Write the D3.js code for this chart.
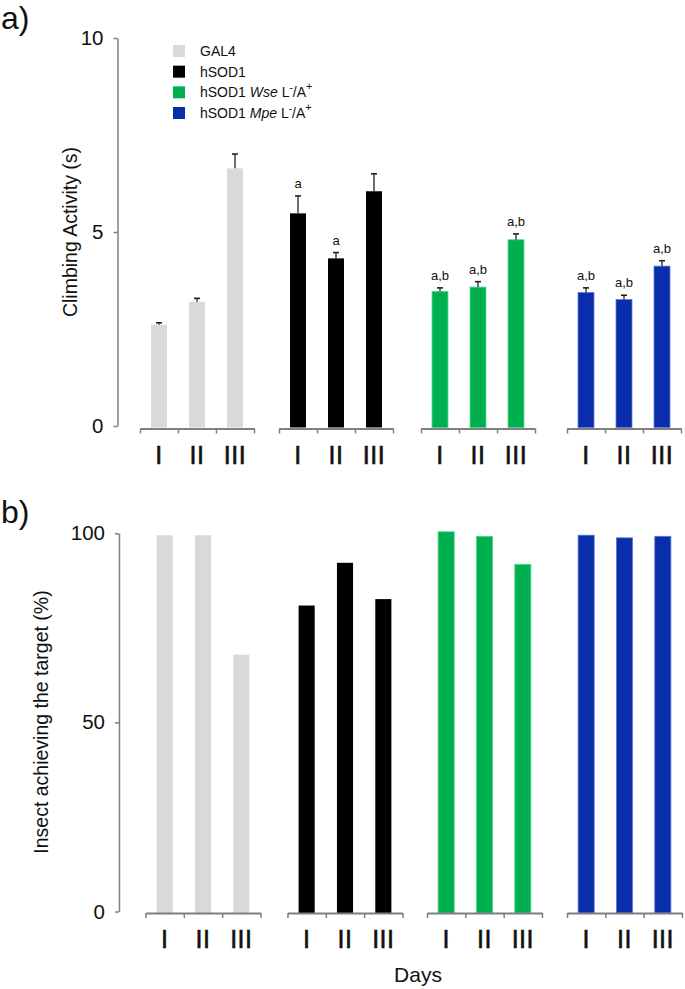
<!DOCTYPE html>
<html>
<head>
<meta charset="utf-8">
<script src="https://cdn.jsdelivr.net/npm/d3@7"></script>
<style>
  html, body { margin: 0; padding: 0; background: #fff; }
  svg { display: block; }
  text { font-family: "Liberation Sans", Arial, Helvetica, sans-serif; fill: #111; }
</style>
</head>
<body>
<svg id="chart" width="685" height="989"></svg>
<script>
// ---------------- DATA ----------------
const groups = ["GAL4", "hSOD1", "hSOD1 Wse", "hSOD1 Mpe"];
const days = ["I", "II", "III"];
const groupColors = ["#d9d9d9", "#000000", "#00b050", "#0a2dab"];

// Panel a: climbing activity (s), mean and upper error
const gal4Climb = [2.61, 3.20, 6.64];
const hsod1Climb = [5.48, 4.32, 6.05];
const wseClimb = [3.47, 3.58, 4.80];
const mpeClimb = [3.44, 3.26, 4.12];

const gal4Err = [0.05, 0.09, 0.37];
const hsod1Err = [0.45, 0.15, 0.45];
const wseErr = [0.09, 0.14, 0.15];
const mpeErr = [0.12, 0.11, 0.14];

const gal4Sig = ["", "", ""];
const hsod1Sig = ["a", "a", ""];
const wseSig = ["a,b", "a,b", "a,b"];
const mpeSig = ["a,b", "a,b", "a,b"];

// Panel b: insects achieving the target (%)
const gal4Pct = [99.5, 99.5, 67.9];
const hsod1Pct = [80.9, 92.2, 82.6];
const wsePct = [100.4, 99.2, 91.8];
const mpePct = [99.5, 98.8, 99.2];

const climbTicks = [0, 5, 10];
const pctTicks = [0, 50, 100];

const climbData = [gal4Climb, hsod1Climb, wseClimb, mpeClimb];
const errData = [gal4Err, hsod1Err, wseErr, mpeErr];
const sigData = [gal4Sig, hsod1Sig, wseSig, mpeSig];
const pctData = [gal4Pct, hsod1Pct, wsePct, mpePct];

// ---------------- LAYOUT ----------------
const svg = d3.select("#chart");
const axisColor = "#7f7f7f";
const font = "'Liberation Sans', Arial, Helvetica, sans-serif";

function drawPanel(opts) {
  const g = svg.append("g");
  const y = d3.scaleLinear().domain(opts.domain).range(opts.yRange);
  const gx = d3.scaleOrdinal().domain(groups).range(opts.groupStarts);
  const dx = d3.scaleBand().domain(days).range([0, opts.groupWidth]).paddingInner(0.58).paddingOuter(0.29);

  // Y axis
  const yAxis = d3.axisLeft(y).tickValues(opts.ticks).tickSize(4).tickPadding(10).tickSizeOuter(0);
  const ya = g.append("g").attr("transform", `translate(${opts.axisX},0)`).call(yAxis);
  ya.select(".domain").attr("stroke", axisColor).attr("stroke-width", 1.5);
  ya.selectAll(".tick line").attr("stroke", axisColor).attr("stroke-width", 1.5);
  ya.selectAll(".tick text").attr("font-size", 20.5).attr("font-family", font).attr("fill", "#111");

  // Y title
  g.append("text")
    .attr("transform", `translate(${opts.titleX},${opts.titleY}) rotate(-90)`)
    .attr("text-anchor", "middle")
    .attr("font-size", opts.titleSize)
    .text(opts.title);

  groups.forEach((grp, gi) => {
    const gg = g.append("g").attr("transform", `translate(${gx(grp)},0)`);
    const vals = opts.values[gi];
    // Bars
    gg.selectAll("rect.bar").data(vals).enter().append("rect")
      .attr("class", "bar")
      .attr("x", (d, i) => dx(days[i]))
      .attr("width", dx.bandwidth())
      .attr("y", d => y(d))
      .attr("height", d => y(0) - y(d) + 1.5)
      .attr("fill", groupColors[gi])
      .attr("stroke", gi === 2 ? "#4fd883" : (gi === 3 ? "#5a78d8" : "none"))
      .attr("stroke-width", gi >= 2 ? 0.8 : 0);

    // Error bars
    if (opts.errors) {
      const errs = opts.errors[gi];
      vals.forEach((v, i) => {
        const cx = dx(days[i]) + dx.bandwidth() / 2;
        const top = y(v + errs[i]);
        gg.append("line").attr("x1", cx).attr("x2", cx).attr("y1", y(v)).attr("y2", top)
          .attr("stroke", "#222").attr("stroke-width", 1.3);
        gg.append("line").attr("x1", cx - 3).attr("x2", cx + 3).attr("y1", top).attr("y2", top)
          .attr("stroke", "#222").attr("stroke-width", 1.6);
        const s = opts.sig[gi][i];
        if (s) {
          gg.append("text").attr("x", cx).attr("y", top - 8)
            .attr("text-anchor", "middle").attr("font-size", 13).text(s);
        }
      });
    }

    // Group x axis
    const xAxis = d3.axisBottom(d3.scaleLinear().domain([0, 3]).range([0, opts.groupWidth]))
      .tickValues([0, 1, 2, 3]).tickSize(5).tickSizeOuter(0).tickFormat("");
    const xa = gg.append("g").attr("transform", `translate(0,${opts.baseY})`).call(xAxis);
    xa.select(".domain").attr("stroke", axisColor).attr("stroke-width", 2);
    xa.selectAll(".tick line").attr("stroke", axisColor).attr("stroke-width", 1.5);

    // Day labels
    gg.selectAll("text.day").data(days).enter().append("text")
      .attr("class", "day")
      .attr("x", d => dx(d) + dx.bandwidth() / 2)
      .attr("y", opts.baseY + 35)
      .attr("text-anchor", "middle")
      .attr("font-size", 25)
      .attr("letter-spacing", 0.5)
      .attr("fill", "#111")
      .attr("stroke", "#111")
      .attr("stroke-width", 0.6)
      .text(d => d);
  });

  // Panel letter
  g.append("text").attr("x", 1).attr("y", opts.letterY).attr("font-size", 32).text(opts.letter);
  return y;
}

drawPanel({
  domain: [0, 10], yRange: [426, 38], ticks: climbTicks, axisX: 117.5,
  groupStarts: [140, 279, 421, 567], groupWidth: 114, baseY: 428.5,
  values: climbData, errors: errData, sig: sigData,
  title: "Climbing Activity (s)", titleX: 77, titleY: 232, titleSize: 19.5,
  letter: "a)", letterY: 29
});

drawPanel({
  domain: [0, 100], yRange: [911.5, 533.3], ticks: pctTicks, axisX: 119,
  groupStarts: [145.5, 287.5, 427, 567], groupWidth: 115, baseY: 913,
  values: pctData, errors: null, sig: null,
  title: "Insect achieving the target (%)", titleX: 48, titleY: 722, titleSize: 19.5,
  letter: "b)", letterY: 523
});

// X title
svg.append("text").attr("x", 418).attr("y", 982).attr("text-anchor", "middle")
  .attr("font-size", 21).text("Days");

// ---------------- LEGEND ----------------
const legendY = d3.scalePoint().domain(groups).range([51, 113]);
const leg = svg.append("g");
groups.forEach((grp, i) => {
  const cy = legendY(grp);
  leg.append("rect").attr("x", 173).attr("y", cy - 6).attr("width", 12).attr("height", 12)
    .attr("fill", groupColors[i]);
  const t = leg.append("text").attr("x", 200).attr("y", cy + 5).attr("font-size", 14);
  if (i < 2) {
    t.text(grp);
  } else {
    const parts = grp.split(" ");
    t.append("tspan").text(parts[0] + " ");
    t.append("tspan").attr("font-style", "italic").text(parts[1]);
    t.append("tspan").text(" L");
    t.append("tspan").attr("font-size", 10).attr("dy", -6).text("-");
    t.append("tspan").attr("dy", 6).text("/A");
    t.append("tspan").attr("font-size", 11).attr("dy", -7).text("+");
  }
});
</script>
</body>
</html>
